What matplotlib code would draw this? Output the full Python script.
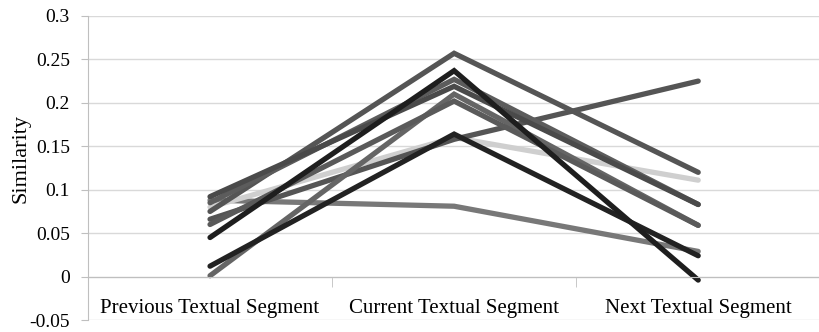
import matplotlib
matplotlib.use("Agg")
import matplotlib.pyplot as plt
from matplotlib.ticker import FixedLocator

plt.rcParams['font.family'] = ['Liberation Serif', 'DejaVu Serif']

categories = ['Previous Textual Segment', 'Current Textual Segment', 'Next Textual Segment']

# one entry per series: values at previous / current / next segment
series_values = [
    [0.088, 0.081, 0.029],
    [0.080, 0.160, 0.111],
    [0.066, 0.158, 0.225],
    [0.075, 0.257, 0.120],
    [0.085, 0.227, 0.083],
    [0.092, 0.219, 0.083],
    [0.001, 0.210, 0.059],
    [0.060, 0.202, 0.059],
    [0.012, 0.164, 0.024],
    [0.045, 0.237, -0.004],
]
series_colors = ['#787878', '#cfcfcf', '#555555', '#555555', '#5c5c5c',
                 '#4a4a4a', '#656565', '#5a5a5a', '#222222', '#1e1e1e']

y_ticks = [-0.05, 0, 0.05, 0.1, 0.15, 0.2, 0.25, 0.3]
y_tick_labels = ['-0.05', '0', '0.05', '0.1', '0.15', '0.2', '0.25', '0.3']

fig = plt.figure(figsize=(8.2, 3.32), dpi=100)
ax = fig.add_axes([0.1073, 0.036, 0.893, 0.916])

x = list(range(len(categories)))
for vals, col in zip(series_values, series_colors):
    ax.plot(x, vals, color=col, linewidth=3.8, solid_capstyle='round',
            solid_joinstyle='miter')

ax.set_xlim(-0.5, len(categories) - 0.5)
ax.set_ylim(-0.05, 0.3)

ax.set_yticks(y_ticks)
ax.set_yticklabels(y_tick_labels)
ax.yaxis.grid(True, color='#d9d9d9', linewidth=1)
ax.set_axisbelow(True)
ax.tick_params(axis='y', length=5, color='#bfbfbf', pad=8, labelsize=14)

ax.set_xticks(x)
ax.set_xticklabels(categories)
ax.tick_params(axis='x', which='major', length=0, pad=16, labelsize=15)
ax.xaxis.set_minor_locator(FixedLocator([0.5, 1.5]))
ax.tick_params(axis='x', which='minor', length=7, color='#bfbfbf',
               direction='out', labelbottom=False)

ax.spines['top'].set_visible(False)
ax.spines['right'].set_visible(False)
ax.spines['left'].set_color('#bfbfbf')
ax.spines['bottom'].set_color('#bfbfbf')
ax.spines['bottom'].set_position(('data', 0))

ax.set_ylabel('Similarity', fontsize=16)
ax.yaxis.set_label_coords(-0.079, 0.53)

fig.savefig('out.png', dpi=100)
